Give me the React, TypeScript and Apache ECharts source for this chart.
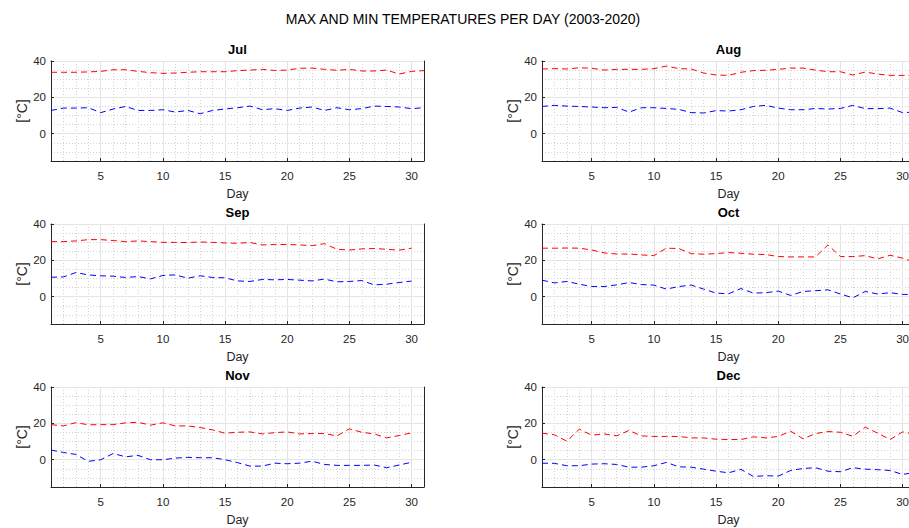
import React, { useEffect, useRef } from "react";
import * as echarts from "echarts";

const MAIN_TITLE = "MAX AND MIN TEMPERATURES PER DAY (2003-2020)";
const MONTHS = ["Jul", "Aug", "Sep", "Oct", "Nov", "Dec"];
const DAYS = [1, 2, 3, 4, 5, 6, 7, 8, 9, 10, 11, 12, 13, 14, 15, 16, 17, 18, 19, 20, 21, 22, 23, 24, 25, 26, 27, 28, 29, 30, 31];
const X_TICKS = [5, 10, 15, 20, 25, 30];
const Y_TICKS = [0, 20, 40];
const X_LABEL = "Day";
const Y_LABEL = "[°C]";

const julMax = [33.8, 33.8, 33.8, 34, 34.3, 35.2, 35.2, 34.3, 33.6, 33.2, 33.4, 33.8, 34.1, 34.1, 34.1, 34.7, 35, 35.4, 34.8, 35, 36, 36.1, 35.4, 34.9, 35.4, 34.5, 34.5, 35, 32.8, 34.3, 34.7];
const julMin = [12.8, 14.1, 14.1, 14.3, 11.6, 13.6, 15, 12.8, 12.8, 13.2, 11.9, 12.8, 11, 12.8, 13.6, 14.3, 15.2, 13.2, 13.8, 12.8, 14.1, 14.7, 12.8, 14.3, 13.2, 13.8, 15.2, 15, 14.7, 13.8, 14.3];
const augMax = [35.6, 35.8, 35.6, 36.3, 36, 35, 35.4, 35.4, 35.4, 35.8, 37.2, 35.8, 35.6, 33.4, 32.3, 32.1, 33.8, 34.7, 34.9, 35.4, 36.1, 36.1, 35, 34.1, 34.1, 32.3, 33.9, 32.8, 32.1, 32.1, 32];
const augMin = [15, 15.6, 15.2, 15, 14.7, 14.3, 14.5, 11.9, 14.3, 14.3, 13.9, 13.4, 11.6, 11.4, 12.7, 12.5, 13.2, 15, 15.6, 14.1, 13.2, 13.2, 13.9, 13.6, 13.9, 15.6, 13.8, 13.8, 14.1, 11.6, 11.9];
const sepMax = [30.3, 30.3, 30.7, 31.4, 31.4, 30.9, 30.3, 30.7, 30.3, 29.9, 29.9, 29.8, 30.1, 29.9, 29.6, 29.4, 29.8, 28.5, 28.7, 28.7, 28.5, 28.1, 29.2, 26.1, 25.7, 26.3, 26.5, 26.1, 25.6, 26.7];
const sepMin = [10.7, 10.9, 13.3, 12, 11.5, 11.3, 10.6, 11.1, 9.8, 11.7, 12, 10.2, 11.5, 10.6, 10.4, 8.7, 8.4, 9.5, 9.3, 9.5, 9.1, 8.7, 9.7, 8.2, 8.4, 8.9, 6.5, 6.9, 7.8, 8.6];
const octMax = [26.7, 26.7, 26.8, 26.7, 25.7, 24.1, 23.5, 23.5, 23, 22.6, 26.7, 26.5, 23.7, 23.4, 23.7, 24.3, 23.9, 23.4, 23.2, 22.1, 21.9, 21.9, 21.9, 28.5, 22.1, 22.1, 22.6, 20.8, 22.8, 21.2, 19];
const octMin = [9.1, 7.6, 8.4, 6.9, 5.6, 5.6, 6.5, 7.8, 6.7, 6.4, 4.2, 5.6, 6.4, 4.2, 2, 1.6, 4.5, 2, 2.2, 3.1, 0.7, 2.9, 3.3, 3.8, 1.5, -0.6, 2.9, 1.5, 2.2, 1.3, 1.2];
const novMax = [19.3, 18.6, 20.4, 19.2, 19.3, 19.3, 20.3, 20.6, 19, 20.3, 18.6, 18.6, 17.7, 16.4, 14.6, 15.1, 15.3, 14.2, 14.9, 15.3, 14.2, 14.4, 14.4, 13.1, 17, 15.1, 14.2, 12, 13.3, 14.8];
const novMin = [5.3, 4, 2.9, -0.9, 0, 3.4, 1.6, 2.4, 0, 0, 0.9, 1.3, 1.1, 1.1, 0, -1.6, -3.5, -3.5, -1.9, -2.2, -1.9, -0.8, -2.6, -3.1, -3.1, -3.1, -2.9, -4.4, -2.9, -1.4];
const decMax = [14.6, 13.7, 10.2, 16.8, 13.5, 14.2, 13.1, 16.1, 13.1, 12.8, 12.8, 12.8, 12, 12, 11.3, 11.1, 11.1, 12.6, 12, 12.8, 15.7, 11.5, 14.4, 15.5, 15.1, 12.9, 17.9, 14.6, 11.1, 15.3, 13.9];
const decMin = [-1.9, -2, -3.3, -3.3, -2.4, -2.2, -2.6, -4.1, -4.1, -3.3, -1.5, -3.9, -4.1, -5.2, -6.3, -7.2, -5.3, -9.2, -8.8, -9, -5.9, -4.8, -4.4, -6.3, -6.6, -4.4, -5.2, -5.5, -5.9, -8.1, -7];

const MAX_SERIES = [julMax, augMax, sepMax, octMax, novMax, decMax];
const MIN_SERIES = [julMin, augMin, sepMin, octMin, novMin, decMin];

const FONT = "'Liberation Sans', Arial, Helvetica, sans-serif";
const INK = "#262626";

export default function App() {
  const ref = useRef<HTMLDivElement>(null);
  useEffect(() => {
    if (!ref.current) return;
    const chart = echarts.init(ref.current, undefined, { renderer: "svg" });
    const colLeft = [51, 542];
    const rowTop = [61, 224, 387];
    const gw = 373;
    const gh = 100;
    const grid: any[] = [];
    const xAxis: any[] = [];
    const yAxis: any[] = [];
    const series: any[] = [];
    const graphic: any[] = [
      {
        type: "text",
        x: 463,
        y: 19,
        style: { text: MAIN_TITLE, fontSize: 14, fontFamily: FONT, fill: "#000", align: "center", verticalAlign: "middle" },
      },
    ];
    MONTHS.forEach((m, i) => {
      const col = i % 2;
      const row = Math.floor(i / 2);
      const left = colLeft[col];
      const top = rowTop[row];
      grid.push({ left, top, width: gw, height: gh, show: true, backgroundColor: "#fff", borderWidth: 0 });
      graphic.push({
        type: "text",
        x: left + gw / 2,
        y: top - 11.5,
        style: { text: m, fontSize: 13, fontWeight: "bold", fontFamily: FONT, fill: "#000", align: "center", verticalAlign: "middle" },
      });
      xAxis.push({
        gridIndex: i,
        type: "value",
        position: "bottom",
        min: 1,
        max: 31,
        name: X_LABEL,
        nameLocation: "middle",
        nameGap: 26,
        nameTextStyle: { fontSize: 12.5, fontFamily: FONT, color: INK },
        axisLine: { show: true, onZero: false, lineStyle: { color: INK, width: 1 } },
        axisTick: { show: true, inside: true, length: 3, customValues: X_TICKS, lineStyle: { color: INK } },
        axisLabel: { show: true, customValues: X_TICKS, margin: 9, fontSize: 11.5, fontFamily: FONT, color: INK },
        splitLine: { show: true, lineStyle: { color: "#e4e4e4", width: 1, type: "solid" } },
        z: 2,
      });
      xAxis.push({
        gridIndex: i,
        type: "value",
        position: "top",
        min: 1,
        max: 31,
        interval: 1,
        axisLine: { show: true, onZero: false, lineStyle: { color: INK, width: 1 } },
        axisTick: { show: false },
        axisLabel: { show: false },
        splitLine: { show: true, lineStyle: { color: "#d2d2d2", width: 1, type: [1, 2] } },
        z: 1,
      });
      yAxis.push({
        gridIndex: i,
        type: "value",
        position: "left",
        min: -15,
        max: 40,
        name: Y_LABEL,
        nameLocation: "middle",
        nameGap: 21,
        nameRotate: 90,
        nameTextStyle: { fontSize: 14, fontFamily: FONT, color: INK },
        axisLine: { show: true, onZero: false, lineStyle: { color: INK, width: 1 } },
        axisTick: { show: true, inside: true, length: 3, customValues: Y_TICKS, lineStyle: { color: INK } },
        axisLabel: { show: true, customValues: Y_TICKS, margin: 5, fontSize: 11.5, fontFamily: FONT, color: INK },
        splitLine: { show: true, lineStyle: { color: "#e4e4e4", width: 1, type: "solid" } },
        z: 2,
      });
      yAxis.push({
        gridIndex: i,
        type: "value",
        position: "right",
        min: -15,
        max: 40,
        interval: 5,
        axisLine: { show: true, onZero: false, lineStyle: { color: INK, width: 1 } },
        axisTick: { show: false },
        axisLabel: { show: false },
        splitLine: { show: true, lineStyle: { color: "#d2d2d2", width: 1, type: [1, 2] } },
        z: 1,
      });
      const mk = (vals: number[], color: string, name: string) => ({
        type: "line",
        name,
        xAxisIndex: 2 * i,
        yAxisIndex: 2 * i,
        data: vals.map((v, k) => [DAYS[k], v]),
        showSymbol: false,
        symbol: "none",
        lineStyle: { color, width: 1, type: [6, 4] },
        itemStyle: { color },
        z: 5,
      });
      series.push(mk(MAX_SERIES[i], "#ff0000", m + " max"));
      series.push(mk(MIN_SERIES[i], "#0000ff", m + " min"));
    });
    chart.setOption({
      animation: false,
      backgroundColor: "#fff",
      textStyle: { fontFamily: FONT },
      grid,
      xAxis,
      yAxis,
      series,
      graphic,
    });
    return () => chart.dispose();
  }, []);
  return (
    <div style={{ position: "fixed", left: 0, top: 0, width: 909, height: 528, overflow: "hidden", background: "#fff" }}>
      <div ref={ref} style={{ width: 960, height: 528 }} />
    </div>
  );
}
